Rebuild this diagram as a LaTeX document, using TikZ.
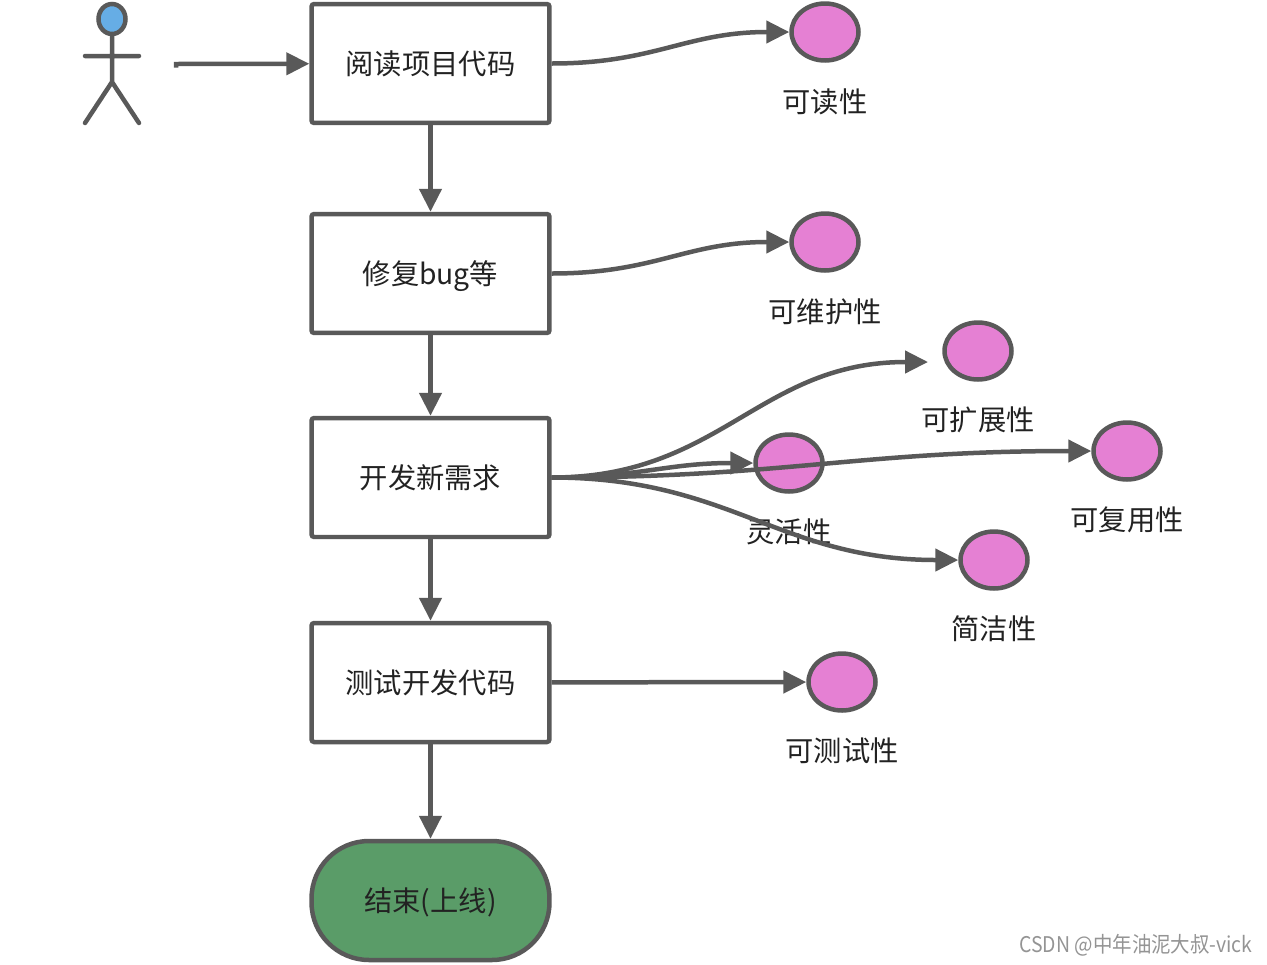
\documentclass[tikz,border=0pt]{standalone}
\usepackage{fontspec}
\setmainfont{Noto Sans CJK SC}
\usetikzlibrary{arrows.meta,shapes.geometric}
\definecolor{linegray}{HTML}{595959}
\definecolor{dotpink}{HTML}{E580D3}
\definecolor{headblue}{HTML}{66ADE5}
\definecolor{endgreen}{HTML}{5A9C68}
\definecolor{textdark}{HTML}{222222}
\tikzset{
  stepbox/.style={draw=linegray,rectangle,rounded corners=1.5pt,line width=0.09cm,fill=white,
    minimum width=4.76cm,minimum height=2.38cm,inner sep=0pt,text=textdark,text height=14pt,text depth=2pt,
    font=\fontsize{16.1}{18}\selectfont},
  endbox/.style={stepbox,fill=endgreen,rounded corners=1.15cm},
  dot/.style={draw=linegray,ellipse,line width=0.09cm,fill=dotpink,minimum width=1.34cm,minimum height=1.14cm,inner sep=0pt},
  dotlabel/.style={text=textdark,inner sep=0pt,font=\fontsize{16.1}{18}\selectfont},
  link/.style={draw=linegray,line width=0.09cm,-{Triangle[length=0.46cm,width=0.44cm]}},
  limb/.style={draw=linegray,line width=0.09cm,line cap=round}
}
\begin{document}
\begin{tikzpicture}[x=0.02cm,y=-0.02cm]
  \useasboundingbox (0,0) rectangle (1267,964);
  % steps
  \draw (430.5,63.5)  node[stepbox] (read) {阅读项目代码};
  \draw (430.5,273.5) node[stepbox] (fix) {修复bug等};
  \draw (430.5,477.5) node[stepbox] (dev) {开发新需求};
  \draw (430.5,682.5) node[stepbox] (test) {测试开发代码};
  \draw (430.5,900.5) node[endbox] (done) {结束(上线)};
  % qualities
  \draw (825,32)   node[dot] (readable) {};
  \draw (825,242)  node[dot] (maintain) {};
  \draw (978,351)  node[dot] (extend) {};
  \draw (789,463)  node[dot] (flexible) {};
  \draw (1127,451) node[dot] (reuse) {};
  \draw (994,560)  node[dot] (simple) {};
  \draw (842,682)  node[dot] (testable) {};
  \node[dotlabel] (readabletext) at (825,101.5)  {可读性};
  \node[dotlabel] (maintaintext) at (825,311.5)  {可维护性};
  \node[dotlabel] (extendtext)   at (978,419.5)  {可扩展性};
  \node[dotlabel] (flexibletext) at (789,531.5)  {灵活性};
  \node[dotlabel] (reusetext)    at (1127,519.5) {可复用性};
  \node[dotlabel] (simpletext)   at (994,628.5)  {简洁性};
  \node[dotlabel] (testabletext) at (842,750.5)  {可测试性};
  % stick figure
  \draw (112,19) node[draw=linegray,ellipse,line width=0.09cm,fill=headblue,minimum width=0.54cm,minimum height=0.6cm,inner sep=0pt] (head) {};
  \coordinate (hip) at (112,82);
  \coordinate (armleft) at (85,56);
  \coordinate (armright) at (139,56);
  \coordinate (footleft) at (85,123);
  \coordinate (footright) at (139,123);
  \coordinate (start) at (176,64);
  \coordinate (starthook) at (176,67.5);
  \coordinate (extendend) at (928,362);
  \draw[limb] (head) -- (hip)
              (armleft) -- (armright)
              (footleft) -- (hip) -- (footright);
  % connectors
  \draw[link] (starthook) -- (start) -- (read);
  \draw[link] (read) -- (fix);
  \draw[link] (fix) -- (dev);
  \draw[link] (dev) -- (test);
  \draw[link] (test) -- (done);
  \draw[link] (read.east) to[out=0,in=180,looseness=1.1] (readable.west);
  \draw[link] (fix.east) to[out=0,in=180,looseness=1.1] (maintain.west);
  \draw[link] (dev.east) to[out=0,in=180,looseness=1.1] (extendend);
  \draw[link] (dev.east) to[out=0,in=180,looseness=1.1] (flexible.west);
  \draw[link] (dev.east) to[out=0,in=180,looseness=1.1] (reuse.west);
  \draw[link] (dev.east) to[out=0,in=180,looseness=1.1] (simple.west);
  \draw[link] (test) -- (testable);
  % watermark
  \node[text=black!42,inner sep=0pt,font=\fontsize{12.3}{14}\selectfont,xscale=0.9] (mark) at (1136,945) {CSDN @中年油泥大叔-vick};
\end{tikzpicture}
\end{document}
